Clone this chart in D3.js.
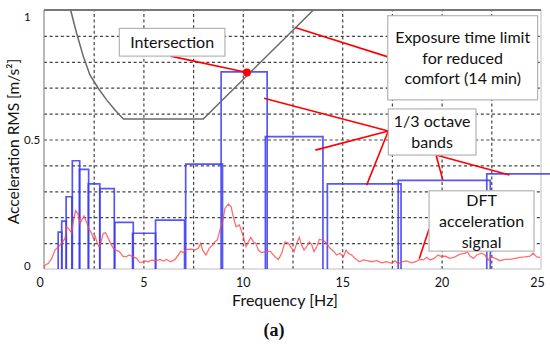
<!DOCTYPE html>
<html>
<head>
<meta charset="utf-8">
<script src="https://cdn.jsdelivr.net/npm/d3@7"></script>
<style>
	html, body { margin: 0; padding: 0; background: #fff; }
	#chart { width: 550px; height: 347px; }
	text { font-family: Lato, "Open Sans", sans-serif; fill: #111; }
</style>
</head>
<body>
<div id="chart"></div>
<script>
// ---- data ----
const xTicks = [0, 5, 10, 15, 20, 25];
const yTicks = [0, 0.5, 1];

// 1/3 octave band centres [Hz] and their RMS acceleration [m/s2]
const bandCenters = [0.8, 1, 1.25, 1.6, 2, 2.5, 3.15, 4, 5, 6.3, 8, 10, 12.5, 16, 20, 25];
const bandRms = [0.142, 0.185, 0.279, 0.418, 0.385, 0.329, 0.31, 0.18, 0.138, 0.189, 0.405, 0.761, 0.511, 0.329, 0.342, 0.367];

// exposure time limit, reduced comfort (14 min)
const limitFreq = [1.34, 1.64, 1.98, 2.31, 2.73, 3.15, 3.57, 3.96, 4, 8.01, 13.55];
const limitAcc = [1.0, 0.91, 0.82, 0.749, 0.698, 0.653, 0.614, 0.582, 0.579, 0.579, 1.0];

// DFT of the acceleration signal
const dftFreq = [0, 0.05, 0.22, 0.39, 0.55, 0.72, 0.89, 1.06, 1.14, 1.27, 1.39, 1.47, 1.59, 1.7, 1.81, 1.9, 2.01, 2.15, 2.28, 2.4,
	2.48, 2.57, 2.68, 2.77, 2.87, 2.98, 3.1, 3.23, 3.36, 3.49, 3.62, 3.79, 3.96, 4.12, 4.29, 4.49, 4.66, 4.83, 5.08, 5.25,
	5.42, 5.58, 5.84, 6.0, 6.17, 6.37, 6.59, 6.76, 6.88, 7.01, 7.18, 7.43, 7.6, 7.76, 7.88, 7.98, 8.15, 8.31, 8.49, 8.6,
	8.72, 8.85, 8.99, 9.1, 9.27, 9.41, 9.52, 9.66, 9.82, 9.89, 10.03, 10.16, 10.28, 10.4, 10.53, 10.66, 10.78, 10.95, 11.2, 11.4,
	11.62, 11.79, 11.96, 12.12, 12.29, 12.46, 12.58, 12.71, 12.84, 12.96, 13.08, 13.21, 13.35, 13.47, 13.58, 13.72, 13.85, 13.97, 14.08, 14.22,
	14.39, 14.59, 14.72, 14.89, 15.06, 15.19, 15.31, 15.48, 15.64, 15.86, 16.06, 16.26, 16.48, 16.74, 16.99, 17.24, 17.49, 17.66, 17.82, 17.99,
	18.24, 18.5, 18.71, 18.88, 19.08, 19.25, 19.42, 19.62, 19.83, 20.01, 20.17, 20.42, 20.67, 20.93, 21.18, 21.29, 21.43, 21.6, 21.77, 22.02,
	22.18, 22.35, 22.52, 22.69, 22.94, 23.19, 23.44, 23.69, 23.94, 24.2, 24.45, 24.61, 24.78, 24.95];
const dftAcc = [0.003, 0.015, 0.022, 0.041, 0.073, 0.086, 0.099, 0.119, 0.163, 0.153, 0.14, 0.183, 0.225, 0.215, 0.176, 0.189, 0.205, 0.179, 0.151, 0.138,
	0.119, 0.127, 0.099, 0.086, 0.105, 0.138, 0.14, 0.119, 0.097, 0.08, 0.073, 0.067, 0.05, 0.047, 0.054, 0.047, 0.041, 0.024, 0.031, 0.028,
	0.035, 0.031, 0.037, 0.031, 0.037, 0.028, 0.037, 0.054, 0.069, 0.063, 0.076, 0.077, 0.073, 0.08, 0.099, 0.073, 0.054, 0.08, 0.093, 0.105,
	0.112, 0.151, 0.183, 0.234, 0.251, 0.241, 0.202, 0.163, 0.17, 0.157, 0.125, 0.086, 0.105, 0.122, 0.105, 0.099, 0.073, 0.063, 0.069, 0.067,
	0.047, 0.037, 0.061, 0.105, 0.099, 0.08, 0.067, 0.099, 0.122, 0.093, 0.073, 0.086, 0.105, 0.093, 0.067, 0.086, 0.115, 0.112, 0.109, 0.099,
	0.08, 0.067, 0.054, 0.061, 0.047, 0.073, 0.061, 0.054, 0.041, 0.028, 0.035, 0.032, 0.028, 0.032, 0.024, 0.028, 0.022, 0.032, 0.019, 0.028,
	0.031, 0.024, 0.028, 0.037, 0.035, 0.045, 0.035, 0.041, 0.054, 0.047, 0.05, 0.041, 0.047, 0.057, 0.061, 0.067, 0.05, 0.041, 0.054, 0.061,
	0.054, 0.035, 0.047, 0.041, 0.032, 0.037, 0.037, 0.041, 0.045, 0.047, 0.05, 0.061, 0.047, 0.045];

const intersection = {f: 10.21, a: 0.759};

// ---- layout ----
const width = 550, height = 347;
const margin = {top: 10, right: 9, bottom: 78, left: 44};

// callout boxes, in data units, with the points their red leaders go to
const callouts = [
	{lines: ["Intersection"], box: [3.79, 9.10, 0.929, 0.822],
		leaders: [[[6.37, 0.822], [10.21, 0.759]]]},
	{lines: ["Exposure time limit", "for reduced", "comfort (14 min)"], box: [17.29, 24.83, 0.978, 0.653],
		leaders: [[[17.3, 0.819], [12.63, 0.932]]]},
	{lines: ["1/3 octave", "bands"], box: [17.32, 21.73, 0.618, 0.44],
		leaders: [[[17.32, 0.533], [11.07, 0.659]], [[17.32, 0.533], [13.65, 0.459]], [[17.32, 0.533], [16.23, 0.324]],
			[[19.72, 0.44], [20.06, 0.344]], [[19.72, 0.44], [23.41, 0.363]]]},
	{lines: ["DFT", "acceleration", "signal"], box: [19.37, 24.65, 0.302, 0.069],
		leaders: [[[19.37, 0.154], [18.88, 0.041]]]}
];

const svg = d3.select("#chart").append("svg")
	.attr("width", width)
	.attr("height", height);

const x = d3.scaleLinear().domain([0, 25]).range([margin.left, width - margin.right]);
const y = d3.scaleLinear().domain([0, 1]).range([height - margin.bottom, margin.top]);

// grid
const gridStyle = g => g.call(s => s.select(".domain").remove())
	.selectAll("line")
	.attr("stroke", "#444")
	.attr("stroke-width", 1.2)
	.attr("stroke-dasharray", "3,2.6");

svg.append("g")
	.attr("transform", `translate(0,${y(0)})`)
	.call(d3.axisBottom(x).tickValues(d3.range(2.5, 25, 2.5)).tickSize(-(y(0) - y(1))).tickFormat(""))
	.call(gridStyle);

svg.append("g")
	.attr("transform", `translate(${x(0)},0)`)
	.call(d3.axisLeft(y).tickValues(d3.range(0.1, 0.95, 0.1)).tickSize(-(x(25) - x(0))).tickFormat(""))
	.call(gridStyle);

// frame
svg.append("line").attr("x1", x(25)).attr("x2", x(25)).attr("y1", y(0)).attr("y2", y(1))
	.attr("stroke", "#c8c8c8").attr("stroke-width", 1.2);
svg.append("line").attr("x1", x(0)).attr("x2", x(25)).attr("y1", y(0)).attr("y2", y(0))
	.attr("stroke", "#bdbdbd").attr("stroke-width", 1.2);
svg.append("line").attr("x1", x(0)).attr("x2", x(0)).attr("y1", y(0)).attr("y2", y(1))
	.attr("stroke", "#8a8a8a").attr("stroke-width", 1.2);
svg.append("line").attr("x1", x(0)).attr("x2", x(25)).attr("y1", y(1)).attr("y2", y(1))
	.attr("stroke", "#777").attr("stroke-width", 2);

// tick labels
const xAxis = svg.append("g")
	.attr("transform", `translate(0,${y(0)})`)
	.call(d3.axisBottom(x).tickValues(xTicks).tickSize(0).tickPadding(9).tickFormat(d3.format("d")));
xAxis.select(".domain").remove();
xAxis.selectAll("text")
	.style("font-size", "12.5px")
	.attr("dx", d => d === 0 ? -4.5 : d === 25 ? -4 : 0);

const yAxis = svg.append("g")
	.attr("transform", `translate(${x(0)},0)`)
	.call(d3.axisLeft(y).tickValues(yTicks).tickSize(0).tickFormat(d => d === 0.5 ? "0.5" : d3.format("d")(d)));
yAxis.select(".domain").remove();
yAxis.selectAll("text")
	.style("font-size", "11.5px")
	.attr("x", -20)
	.attr("text-anchor", "start")
	.attr("dy", d => d === 1 ? "0.95em" : d === 0 ? "0.05em" : "0.32em");

// axis titles
svg.append("text")
	.attr("transform", `translate(19,${(y(0) + y(1)) / 2 + 2}) rotate(-90)`)
	.attr("text-anchor", "middle")
	.style("font-size", "15.5px")
	.text("Acceleration RMS [m/s²]");

svg.append("text")
	.attr("x", 285).attr("y", 306)
	.attr("text-anchor", "middle")
	.style("font-size", "16px")
	.text("Frequency [Hz]");

svg.append("text")
	.attr("x", 274).attr("y", 336)
	.attr("text-anchor", "middle")
	.style("font-family", "'Liberation Serif', serif")
	.style("font-weight", "bold")
	.style("font-size", "18px")
	.text("(a)");

// 1/3 octave bands, drawn as open steps
const line = d3.line().x(d => x(d[0])).y(d => y(d[1]));
const third = Math.pow(2, 1 / 6);

svg.append("g")
	.selectAll("path")
	.data(bandCenters.map((c, i) => ({lo: c / third, hi: c * third, v: bandRms[i]})))
	.enter().append("path")
	.attr("d", d => line([[d.lo, 0], [d.lo, d.v], [d.hi, d.v], [d.hi, 0]]))
	.attr("fill", "none")
	.attr("stroke", "#3a3af5")
	.attr("stroke-opacity", 0.85)
	.attr("stroke-width", 1.7);

// DFT curve
svg.append("path")
	.attr("d", line(dftFreq.map((f, i) => [f, dftAcc[i]])))
	.attr("fill", "none")
	.attr("stroke", "#ff4a4a")
	.attr("stroke-opacity", 0.8)
	.attr("stroke-width", 1.3);

// exposure limit curve
svg.append("path")
	.attr("d", line(limitFreq.map((f, i) => [f, limitAcc[i]])))
	.attr("fill", "none")
	.attr("stroke", "#6a6a6a")
	.attr("stroke-width", 1.5);

// callouts
const leaders = svg.append("g");
callouts.forEach(c => c.leaders.forEach(l => {
	leaders.append("line")
		.attr("x1", x(l[0][0])).attr("y1", y(l[0][1]))
		.attr("x2", x(l[1][0])).attr("y2", y(l[1][1]))
		.attr("stroke", "#f00")
		.attr("stroke-width", 1.6);
}));

svg.append("circle")
	.attr("cx", x(intersection.f))
	.attr("cy", y(intersection.a))
	.attr("r", 4)
	.attr("fill", "#f00");

const boxes = svg.append("g")
	.selectAll("g")
	.data(callouts)
	.enter().append("g");

boxes.append("rect")
	.attr("x", d => x(d.box[0]))
	.attr("y", d => y(d.box[2]))
	.attr("width", d => x(d.box[1]) - x(d.box[0]))
	.attr("height", d => y(d.box[3]) - y(d.box[2]))
	.attr("fill", "#fff")
	.attr("stroke", "#b4b4b4")
	.attr("stroke-width", 1.2);

boxes.each(function (d) {
	const cx = (x(d.box[0]) + x(d.box[1])) / 2;
	const cy = (y(d.box[2]) + y(d.box[3])) / 2;
	d3.select(this).selectAll("text")
		.data(d.lines)
		.enter().append("text")
		.attr("x", cx)
		.attr("y", (t, i) => cy + 5.8 + (i - (d.lines.length - 1) / 2) * 20.8)
		.attr("text-anchor", "middle")
		.style("font-size", "16px")
		.text(t => t);
});
</script>
</body>
</html>
